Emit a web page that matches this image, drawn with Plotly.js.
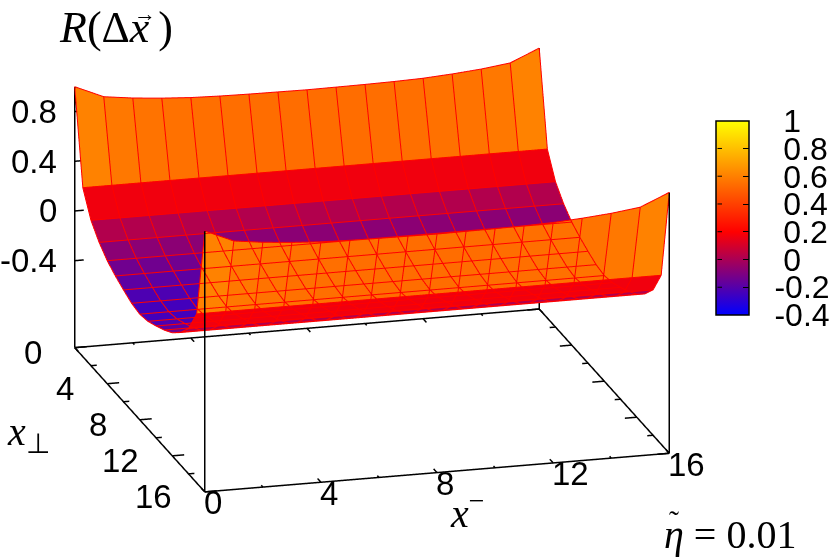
<!DOCTYPE html>
<html>
<head>
<meta charset="utf-8">
<script src="https://cdn.plot.ly/plotly-3.0.1.min.js"></script>
<style>
  html, body { margin: 0; padding: 0; background: #fff; }
  #chart { width: 830px; height: 558px; }
</style>
</head>
<body>
<div id="chart"></div>
<script>
// keep the gl buffers readable so the page can be photographed
var origGetContext = HTMLCanvasElement.prototype.getContext;
HTMLCanvasElement.prototype.getContext = function (type, opts) {
  return origGetContext.call(this, type, Object.assign({}, opts || {}, { preserveDrawingBuffer: true }));
};

// grid of the surface
var xMinus = [0, 1, 2, 3, 4, 5, 6, 7, 8, 9, 10, 11, 12, 13, 14, 15, 16];
var xPerp = [0, 1, 2, 3, 4, 5, 6, 7, 8, 9, 10, 11, 12, 13, 14, 15, 16];

// z along the two high edges (xPerp = 0 and xPerp = 16)
var edgeRow = [1, 0.9, 0.87, 0.85, 0.835, 0.828, 0.824, 0.822, 0.82, 0.822, 0.824, 0.828, 0.835, 0.85, 0.87, 0.9, 1];
// z across xPerp for the rows in between, flat along xMinus
var innerRows = [null, 0.26, 0.07, -0.035, -0.11, -0.16, -0.2, -0.235, -0.25, -0.235, -0.2, -0.16, -0.11, -0.035, 0.07, 0.26, null];

var xTicks = [0, 4, 8, 12, 16];
var xMinorTicks = [2, 6, 10, 14];
var zTicks = [-0.4, 0, 0.4, 0.8];
var zTickText = ["-0.4", "0", "0.4", "0.8"];
var barTicks = [-0.4, -0.2, 0, 0.2, 0.4, 0.6, 0.8, 1];
var barText = ["\u00a0\u00a0-0.4", "\u00a0\u00a0-0.2", "\u00a0\u00a0\u00a00", "\u00a0\u00a0\u00a00.2", "\u00a0\u00a0\u00a00.4", "\u00a0\u00a0\u00a00.6", "\u00a0\u00a0\u00a00.8", "\u00a0\u00a0\u00a01"];

var zLow = -1.1, zHigh = 1;
var font = "Liberation Sans";
var mathFont = "Liberation Serif";

var zRows = xPerp.map(function (p, r) {
  return xMinus.map(function (m, c) {
    return innerRows[r] === null ? edgeRow[c] : innerRows[r];
  });
});

// mesh, one flat colour per grid cell (mean of the four corners, like pm3d)
var mx = [], my = [], mz = [], mi = [], mj = [], mk = [], cellValue = [];
var n = xMinus.length;
xPerp.forEach(function (p, r) {
  xMinus.forEach(function (m, c) {
    mx.push(p); my.push(m); mz.push(zRows[r][c]);
  });
});
for (var r = 0; r < n - 1; r++) {
  for (var c = 0; c < n - 1; c++) {
    var a = r * n + c, b = a + 1, d = a + n, e = d + 1;
    var mean = (zRows[r][c] + zRows[r][c + 1] + zRows[r + 1][c] + zRows[r + 1][c + 1]) / 4;
    mi.push(a, a); mj.push(b, e); mk.push(e, d);
    cellValue.push(mean, mean);
  }
}

// red mesh lines, drawn in the overlay scene so they show through the surface
var lx = [], ly = [], lz = [];
xPerp.forEach(function (p, r) {
  xMinus.forEach(function (m, c) { lx.push(p); ly.push(m); lz.push(zRows[r][c]); });
  lx.push(null); ly.push(null); lz.push(null);
});
xMinus.forEach(function (m, c) {
  xPerp.forEach(function (p, r) { lx.push(p); ly.push(m); lz.push(zRows[r][c]); });
  lx.push(null); ly.push(null); lz.push(null);
});

function addSeg(t, x0, y0, z0, x1, y1, z1) {
  t.x.push(x0, x1, null); t.y.push(y0, y1, null); t.z.push(z0, z1, null);
}

// box on top of the surface
var box = { x: [], y: [], z: [] };
addSeg(box, 0, 0, zLow, 0, 16, zLow);
addSeg(box, 0, 16, zLow, 16, 16, zLow);
addSeg(box, 16, 16, zLow, 16, 0, zLow);
addSeg(box, 16, 0, zLow, 0, 0, zLow);
addSeg(box, 0, 0, zLow, 0, 0, zHigh);
addSeg(box, 16, 0, zLow, 16, 0, zHigh);
addSeg(box, 16, 16, zLow, 16, 16, zHigh);

// ticks and the hidden corner post go under the surface
var ticks = { x: [], y: [], z: [] };
addSeg(ticks, 0, 16, zLow, 0, 16, zHigh);
var major = 0.41, minor = 0.2;
xTicks.concat(xMinorTicks).forEach(function (v) {
  var len = xTicks.indexOf(v) >= 0 ? major : minor;
  addSeg(ticks, v, 0, zLow, v, len, zLow);
  addSeg(ticks, v, 16, zLow, v, 16 - len, zLow);
  addSeg(ticks, 16, v, zLow, 16 - len, v, zLow);
  addSeg(ticks, 0, v, zLow, len, v, zLow);
});
zTicks.forEach(function (v) {
  addSeg(ticks, 0, 0, v, 0, 0.31, v);
});

var data = [
  {
    type: "mesh3d",
    scene: "scene",
    x: mx, y: my, z: mz, i: mi, j: mj, k: mk,
    intensity: cellValue,
    intensitymode: "cell",
    cmin: -0.4, cmax: 1,
    colorscale: [[0, "#0000ff"], [3 / 7, "#ff0000"], [1, "#ffff00"]],
    flatshading: true,
    lighting: { ambient: 1, diffuse: 0, specular: 0, roughness: 1, fresnel: 0 },
    hoverinfo: "skip",
    colorbar: {
      x: 715.7 / 830, xanchor: "left", xpad: 0,
      y: 1 - 218 / 558, yanchor: "middle", ypad: 0,
      thickness: 33, thicknessmode: "pixels",
      len: 194, lenmode: "pixels",
      outlinecolor: "#000", outlinewidth: 1.5,
      tickmode: "array", tickvals: barTicks, ticktext: barText,
      ticks: "inside", ticklen: 6, tickcolor: "#000", tickwidth: 1,
      tickfont: { family: font, size: 32, color: "#000" }
    }
  },
  {
    type: "scatter3d", scene: "scene", mode: "lines",
    x: ticks.x, y: ticks.y, z: ticks.z,
    line: { color: "#000", width: 3 },
    hoverinfo: "skip", showlegend: false
  },
  {
    type: "scatter3d", scene: "scene2", mode: "lines",
    x: lx, y: ly, z: lz,
    line: { color: "#ff0000", width: 2 },
    hoverinfo: "skip", showlegend: false
  },
  {
    type: "scatter3d", scene: "scene2", mode: "lines",
    x: box.x, y: box.y, z: box.z,
    line: { color: "#000", width: 3 },
    hoverinfo: "skip", showlegend: false
  }
];

function hiddenAxis(range) {
  return {
    range: range, autorange: false, visible: false,
    showgrid: false, zeroline: false, showline: false,
    showticklabels: false, showbackground: false, showspikes: false, title: { text: "" }
  };
}

var eyeDist = 1.8;
var camera = {
  eye: { x: 0.9185 * eyeDist, y: -0.2515 * eyeDist, z: 0.3035 * eyeDist },
  up: { x: 0, y: 0, z: 1 },
  center: { x: 0, y: 0, z: 0 },
  projection: { type: "orthographic" }
};

// ranges a bit wider than the box, lines exactly on the bounds get clipped
function sceneLayout() {
  return {
    domain: { x: [0, 744 / 830], y: [1 - 540 / 558, 1] },
    aspectmode: "manual",
    aspectratio: { x: 1.847, y: 1.806, z: 1.024 },
    camera: camera,
    bgcolor: "rgba(0,0,0,0)",
    xaxis: hiddenAxis([-0.1, 16.1]),
    yaxis: hiddenAxis([-0.1, 16.1]),
    zaxis: hiddenAxis([zLow - 0.01, zHigh + 0.01])
  };
}

var labelFont = { family: font, size: 33, color: "#000" };
var tickLabels = [];
zTicks.forEach(function (v, idx) {
  tickLabels.push({ x: 0, y: 0, z: v, text: zTickText[idx], showarrow: false, xanchor: "right", xshift: -16, font: labelFont });
});
xTicks.forEach(function (v) {
  tickLabels.push({ x: v, y: 0, z: zLow, text: String(v), showarrow: false, xanchor: "right", xshift: -31, yshift: -5, font: labelFont });
  tickLabels.push({ x: 16, y: v, z: zLow, text: String(v), showarrow: false, xanchor: "left", xshift: -3, yshift: -11, font: labelFont });
});

function paperText(text, px, py, size) {
  return {
    xref: "paper", yref: "paper", x: px / 830, y: 1 - py / 558,
    xanchor: "left", yanchor: "middle", showarrow: false, text: text,
    font: { family: mathFont, size: size, color: "#000" }
  };
}

var s1 = sceneLayout();
s1.annotations = tickLabels;

// colorbar ticks on the left side of the bar, plotly only draws the right ones
var barLeftTicks = barTicks.slice(1, -1).map(function (v) {
  var py = 315 - (v + 0.4) / 1.4 * 194.3;
  return {
    xref: "paper", yref: "paper", x: 722 / 830, y: 1 - py / 558,
    ax: -6, ay: 0, axref: "pixel", ayref: "pixel", text: "",
    showarrow: true, arrowhead: 0, arrowwidth: 1, arrowcolor: "#000", standoff: 0
  };
});

var layout = {
  width: 830,
  height: 558,
  margin: { l: 0, r: 0, t: 0, b: 0, pad: 0, autoexpand: false },
  paper_bgcolor: "#fff",
  showlegend: false,
  title: {
    text: "<i>R</i>(\u0394<i>x</i>\u2009)",
    x: 60 / 830, xanchor: "left", xref: "paper",
    y: 1 - 27 / 558, yanchor: "middle", yref: "paper",
    font: { family: mathFont, size: 44, color: "#000" }
  },
  scene: s1,
  scene2: sceneLayout(),
  annotations: [
    paperText("<i>x</i><sub>\u22a5</sub>", 5, 434, 40),
    paperText("<i>x</i><sup>\u2212</sup>", 448, 510, 40),
    paperText("<i>\u03b7</i> = 0.01", 662, 534, 40),
    paperText("\u02dc", 667, 520, 30),
    paperText("\u2192", 132, 13, 22)
  ].concat(barLeftTicks)
};

Plotly.newPlot("chart", data, layout, { displayModeBar: false });
</script>
</body>
</html>
